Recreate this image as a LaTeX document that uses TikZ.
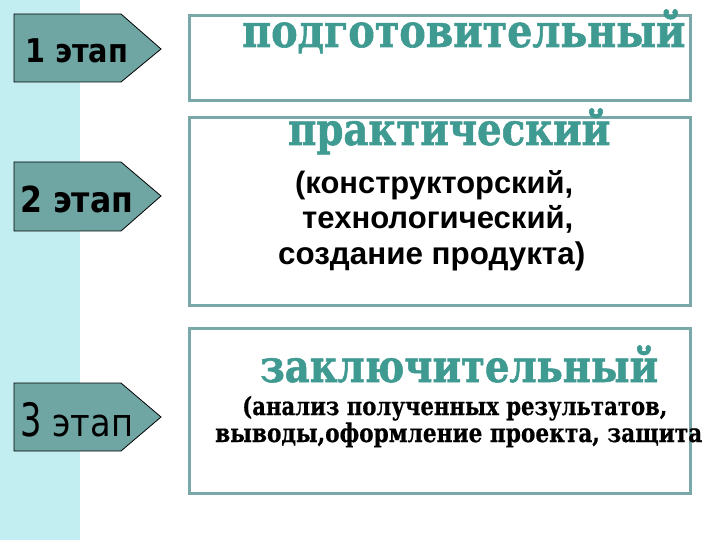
\documentclass[tikz,border=0pt]{standalone}
\usepackage{fontspec}
\setmainfont{DejaVu Serif}
\newfontfamily\headfont{DejaVu Serif}[FakeStretch=0.86, FakeBold=1.2]
\newfontfamily\notefont{DejaVu Serif}[FakeStretch=0.84, FakeBold=0.6]
\newfontfamily\armfont{Liberation Sans}
\newfontfamily\tagfont{DejaVu Sans}[FakeStretch=0.88]
\definecolor{strip}{HTML}{C2EEF1}
\definecolor{arrowfill}{HTML}{6FA6A4}
\definecolor{boxline}{HTML}{7AA7A7}
\definecolor{headteal}{HTML}{3F9A92}
\newcommand{\fitw}[2]{\resizebox{#1}{!}{#2}}
\tikzset{
  x=1pt, y=-1pt,
  stagearrow/.style={fill=arrowfill, draw=black, line width=0.8pt, line join=miter},
  stagebox/.style={draw=boxline, line width=3pt},
  txt/.style={inner sep=0pt, anchor=base west},
  head/.style={txt, text=headteal, font=\headfont\bfseries},
}
\begin{document}
\begin{tikzpicture}
\useasboundingbox (0,0) rectangle (720,540);
\fill[white] (0,0) rectangle (720,540);
\fill[strip] (0,0) rectangle (80,540);

% stage arrows
\draw[stagearrow] (14,14) -- (121,14) -- (161,49) -- (121,82) -- (14,82) -- cycle;
\draw[stagearrow] (14,162) -- (121,162) -- (161,196) -- (121,231) -- (14,231) -- cycle;
\draw[stagearrow] (14,383) -- (121,383) -- (161,417) -- (121,451) -- (14,451) -- cycle;
\node[txt, font=\tagfont\bfseries] (s1) at (25,63) {\fitw{103pt}{1 этап}};
\node[txt, font=\tagfont\bfseries] (s2) at (20,212) {\fitw{113pt}{2 этап}};
\node[txt, font=\tagfont] (s3) at (20,436) {\fitw{113pt}{\scalebox{1}[1.2]{3} этап}};

% boxes
\node[stagebox, inner sep=0pt, minimum width=501pt, minimum height=85pt, anchor=north west] (b1) at (188,14) {};
\node[stagebox, inner sep=0pt, minimum width=501pt, minimum height=188pt, anchor=north west] (b2) at (188,116) {};
\node[stagebox, inner sep=0pt, minimum width=501pt, minimum height=165pt, anchor=north west] (b3) at (188,327) {};

% texts
\node[head] (h1) at (242,47) {\fitw{443pt}{подготовительный}};
\node[head] (h2) at (288,145) {\fitw{322pt}{практический}};
\node[txt, font=\armfont\bfseries] (p1) at (295,194) {\fitw{278pt}{(конструкторский,}};
\node[txt, font=\armfont\bfseries] (p2) at (302,228) {\fitw{271pt}{технологический,}};
\node[txt, font=\armfont\bfseries] (p3) at (278,264) {\fitw{307pt}{создание продукта)}};
\node[head] (h3) at (260,382) {\fitw{398pt}{заключительный}};
\node[txt, font=\notefont\bfseries] (q1) at (242,415) {\fitw{425pt}{(анализ полученных результатов,}};
\node[txt, font=\notefont\bfseries] (q2) at (215,442) {\fitw{487pt}{выводы,оформление проекта, защита}};
\end{tikzpicture}
\end{document}
